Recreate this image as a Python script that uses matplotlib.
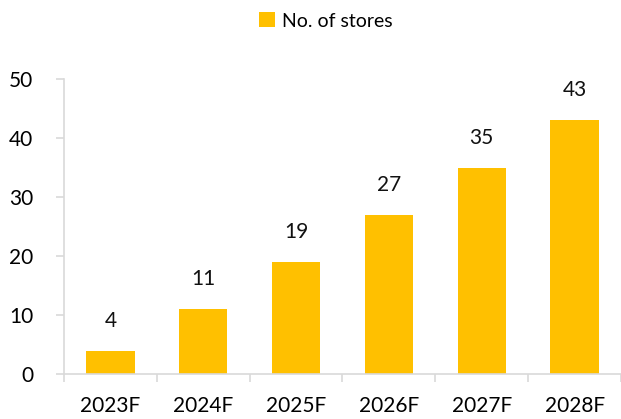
import matplotlib.pyplot as plt
import numpy as np

years = ["2023F", "2024F", "2025F", "2026F", "2027F", "2028F"]
stores = [4, 11, 19, 27, 35, 43]

plt.rcParams['font.family'] = ['Lato', 'DejaVu Sans']

fig = plt.figure(figsize=(6.21, 4.19), dpi=100)
ax = fig.add_axes([0.103, 0.107, 0.897, 0.704])

x = np.arange(len(years))
bars = ax.bar(x, stores, width=0.52, color="#FFC000", label="No. of stores")
for xi, v in zip(x, stores):
    ax.text(xi, v + 3.4, str(v), ha="center", va="bottom", fontsize=15, color="#111111")

ax.set_xlim(-0.5, len(years) - 0.5)
ax.set_ylim(0, 50)
ax.set_yticks(range(0, 51, 10))
ax.set_xticks(x)
ax.set_xticklabels(years)
ax.set_xticks(np.arange(-0.5, len(years), 1), minor=True)
ax.tick_params(axis="x", which="major", length=0, pad=16, labelsize=15)
ax.tick_params(axis="x", which="minor", length=6, color="#D9D9D9", width=1.2)
ax.tick_params(axis="y", length=6, color="#D9D9D9", width=1.2, pad=16, labelsize=15)

for s in ["top", "right"]:
    ax.spines[s].set_visible(False)
for s in ["left", "bottom"]:
    ax.spines[s].set_color("#D9D9D9")
    ax.spines[s].set_linewidth(1.2)

fig.legend(handles=[bars], labels=["No. of stores"], loc="center", bbox_to_anchor=(0.525, 0.95),
           frameon=False, fontsize=14, handlelength=0.8, handleheight=0.8, handletextpad=0.4)

fig.savefig("out.png", dpi=100)
